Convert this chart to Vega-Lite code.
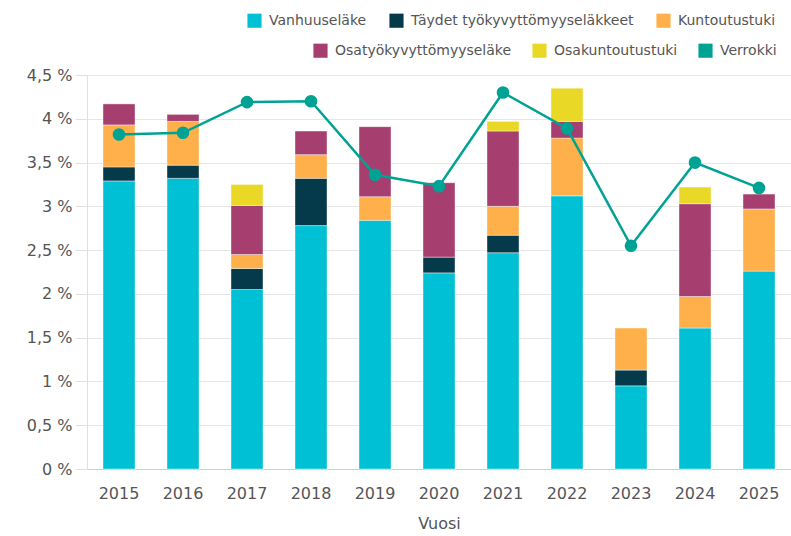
{
  "$schema": "https://vega.github.io/schema/vega-lite/v6.json",
  "autosize": "none",
  "width": 704,
  "height": 394,
  "padding": {"left": 87, "top": 75, "right": 0, "bottom": 67},
  "background": "#ffffff",
  "config": {
    "view": {"stroke": null},
    "font": "DejaVu Sans",
    "axis": {"labelFont": "DejaVu Sans", "titleFont": "DejaVu Sans", "labelColor": "#555555", "titleColor": "#555555"},
    "legend": {"labelFont": "DejaVu Sans", "labelColor": "#555555", "labelLimit": 400}
  },
  "datasets": {
    "osat": [
      {"vuosi": "2015", "sarja": "Vanhuuseläke", "n": 1, "arvo": 3.29},
      {"vuosi": "2015", "sarja": "Täydet työkyvyttömyyseläkkeet", "n": 2, "arvo": 0.16},
      {"vuosi": "2015", "sarja": "Kuntoutustuki", "n": 3, "arvo": 0.48},
      {"vuosi": "2015", "sarja": "Osatyökyvyttömyyseläke", "n": 4, "arvo": 0.24},
      {"vuosi": "2016", "sarja": "Vanhuuseläke", "n": 1, "arvo": 3.32},
      {"vuosi": "2016", "sarja": "Täydet työkyvyttömyyseläkkeet", "n": 2, "arvo": 0.15},
      {"vuosi": "2016", "sarja": "Kuntoutustuki", "n": 3, "arvo": 0.5},
      {"vuosi": "2016", "sarja": "Osatyökyvyttömyyseläke", "n": 4, "arvo": 0.08},
      {"vuosi": "2017", "sarja": "Vanhuuseläke", "n": 1, "arvo": 2.05},
      {"vuosi": "2017", "sarja": "Täydet työkyvyttömyyseläkkeet", "n": 2, "arvo": 0.24},
      {"vuosi": "2017", "sarja": "Kuntoutustuki", "n": 3, "arvo": 0.16},
      {"vuosi": "2017", "sarja": "Osatyökyvyttömyyseläke", "n": 4, "arvo": 0.56},
      {"vuosi": "2017", "sarja": "Osakuntoutustuki", "n": 5, "arvo": 0.24},
      {"vuosi": "2018", "sarja": "Vanhuuseläke", "n": 1, "arvo": 2.78},
      {"vuosi": "2018", "sarja": "Täydet työkyvyttömyyseläkkeet", "n": 2, "arvo": 0.54},
      {"vuosi": "2018", "sarja": "Kuntoutustuki", "n": 3, "arvo": 0.27},
      {"vuosi": "2018", "sarja": "Osatyökyvyttömyyseläke", "n": 4, "arvo": 0.27},
      {"vuosi": "2019", "sarja": "Vanhuuseläke", "n": 1, "arvo": 2.84},
      {"vuosi": "2019", "sarja": "Kuntoutustuki", "n": 3, "arvo": 0.27},
      {"vuosi": "2019", "sarja": "Osatyökyvyttömyyseläke", "n": 4, "arvo": 0.8},
      {"vuosi": "2020", "sarja": "Vanhuuseläke", "n": 1, "arvo": 2.24},
      {"vuosi": "2020", "sarja": "Täydet työkyvyttömyyseläkkeet", "n": 2, "arvo": 0.18},
      {"vuosi": "2020", "sarja": "Osatyökyvyttömyyseläke", "n": 4, "arvo": 0.85},
      {"vuosi": "2021", "sarja": "Vanhuuseläke", "n": 1, "arvo": 2.47},
      {"vuosi": "2021", "sarja": "Täydet työkyvyttömyyseläkkeet", "n": 2, "arvo": 0.2},
      {"vuosi": "2021", "sarja": "Kuntoutustuki", "n": 3, "arvo": 0.33},
      {"vuosi": "2021", "sarja": "Osatyökyvyttömyyseläke", "n": 4, "arvo": 0.86},
      {"vuosi": "2021", "sarja": "Osakuntoutustuki", "n": 5, "arvo": 0.11},
      {"vuosi": "2022", "sarja": "Vanhuuseläke", "n": 1, "arvo": 3.12},
      {"vuosi": "2022", "sarja": "Kuntoutustuki", "n": 3, "arvo": 0.66},
      {"vuosi": "2022", "sarja": "Osatyökyvyttömyyseläke", "n": 4, "arvo": 0.19},
      {"vuosi": "2022", "sarja": "Osakuntoutustuki", "n": 5, "arvo": 0.38},
      {"vuosi": "2023", "sarja": "Vanhuuseläke", "n": 1, "arvo": 0.95},
      {"vuosi": "2023", "sarja": "Täydet työkyvyttömyyseläkkeet", "n": 2, "arvo": 0.18},
      {"vuosi": "2023", "sarja": "Kuntoutustuki", "n": 3, "arvo": 0.48},
      {"vuosi": "2024", "sarja": "Vanhuuseläke", "n": 1, "arvo": 1.61},
      {"vuosi": "2024", "sarja": "Kuntoutustuki", "n": 3, "arvo": 0.36},
      {"vuosi": "2024", "sarja": "Osatyökyvyttömyyseläke", "n": 4, "arvo": 1.06},
      {"vuosi": "2024", "sarja": "Osakuntoutustuki", "n": 5, "arvo": 0.19},
      {"vuosi": "2025", "sarja": "Vanhuuseläke", "n": 1, "arvo": 2.26},
      {"vuosi": "2025", "sarja": "Kuntoutustuki", "n": 3, "arvo": 0.71},
      {"vuosi": "2025", "sarja": "Osatyökyvyttömyyseläke", "n": 4, "arvo": 0.17}
    ],
    "verrokki": [
      {"vuosi": "2015", "sarja": "Verrokki", "arvo": 3.82},
      {"vuosi": "2016", "sarja": "Verrokki", "arvo": 3.84},
      {"vuosi": "2017", "sarja": "Verrokki", "arvo": 4.19},
      {"vuosi": "2018", "sarja": "Verrokki", "arvo": 4.2},
      {"vuosi": "2019", "sarja": "Verrokki", "arvo": 3.36},
      {"vuosi": "2020", "sarja": "Verrokki", "arvo": 3.23},
      {"vuosi": "2021", "sarja": "Verrokki", "arvo": 4.3},
      {"vuosi": "2022", "sarja": "Verrokki", "arvo": 3.89},
      {"vuosi": "2023", "sarja": "Verrokki", "arvo": 2.55},
      {"vuosi": "2024", "sarja": "Verrokki", "arvo": 3.5},
      {"vuosi": "2025", "sarja": "Verrokki", "arvo": 3.21}
    ]
  },
  "encoding": {
    "x": {
      "field": "vuosi",
      "type": "nominal",
      "title": "Vuosi",
      "scale": {"paddingInner": 0.5, "paddingOuter": 0.25},
      "axis": {
        "labelAngle": 0,
        "labelFontSize": 16,
        "titleFontSize": 16,
        "titleFontWeight": "normal",
        "ticks": false,
        "labelPadding": 16,
        "titlePadding": 14,
        "domainColor": "#d0d0d0",
        "grid": false
      }
    },
    "y": {
      "field": "arvo",
      "type": "quantitative",
      "title": null,
      "scale": {"domain": [0, 4.5], "nice": false},
      "axis": {
        "values": [0, 0.5, 1, 1.5, 2, 2.5, 3, 3.5, 4, 4.5],
        "labelExpr": "replace(format(datum.value, '.1~f'), '.', ',') + ' %'",
        "labelFontSize": 16,
        "gridColor": "#e6e6e6",
        "tickColor": "#e0e0e0",
        "tickSize": 12,
        "domainColor": "#e0e0e0",
        "labelPadding": 3
      }
    }
  },
  "layer": [
    {
      "data": {"name": "osat"},
      "mark": {"type": "bar", "stroke": "#ffffff", "strokeOpacity": 0.4, "strokeWidth": 1},
      "encoding": {
        "y": {"field": "arvo", "type": "quantitative", "stack": "zero"},
        "order": {"field": "n", "type": "quantitative", "sort": "ascending"},
        "fill": {
          "field": "sarja",
          "type": "nominal",
          "scale": {
            "domain": ["Vanhuuseläke", "Täydet työkyvyttömyyseläkkeet", "Kuntoutustuki", "Osatyökyvyttömyyseläke", "Osakuntoutustuki"],
            "range": ["#00c0d6", "#053a4a", "#ffb04a", "#a63f6f", "#e9d926"]
          },
          "legend": {
            "title": null,
            "values": ["Vanhuuseläke", "Täydet työkyvyttömyyseläkkeet", "Kuntoutustuki"],
            "orient": "none",
            "direction": "horizontal",
            "legendX": 160,
            "legendY": -62,
            "symbolType": "square",
            "symbolSize": 200,
            "symbolStrokeWidth": 0,
            "labelFontSize": 14,
            "labelOffset": 7,
            "columnPadding": 22
          }
        }
      }
    },
    {
      "data": {"name": "verrokki"},
      "mark": {"type": "line", "color": "#00a294", "strokeWidth": 2.5},
      "encoding": {}
    },
    {
      "data": {"name": "verrokki"},
      "mark": {"type": "point", "filled": true, "size": 160, "opacity": 1},
      "encoding": {
        "fill": {
          "field": "sarja",
          "type": "nominal",
          "scale": {
            "domain": ["Osatyökyvyttömyyseläke", "Osakuntoutustuki", "Verrokki"],
            "range": ["#a63f6f", "#e9d926", "#00a294"]
          },
          "legend": {
            "title": null,
            "orient": "none",
            "direction": "horizontal",
            "legendX": 226,
            "legendY": -32,
            "symbolType": "square",
            "symbolSize": 200,
            "symbolStrokeWidth": 0,
            "symbolOpacity": 1,
            "labelFontSize": 14,
            "labelOffset": 7,
            "columnPadding": 20
          }
        }
      }
    }
  ],
  "resolve": {"scale": {"fill": "independent"}, "legend": {"fill": "independent"}}
}
